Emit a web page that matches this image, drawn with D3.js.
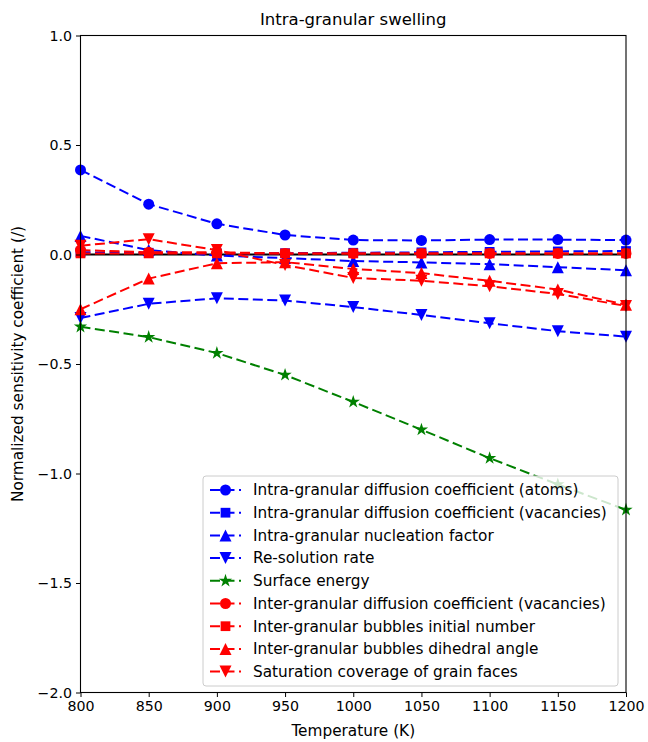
<!DOCTYPE html>
<html>
<head>
<meta charset="utf-8" />
<title>Intra-granular swelling</title>
<script src="https://cdn.jsdelivr.net/npm/d3@7"></script>
<style type="text/css">
  html, body { margin: 0; background: #fff; }
  svg text { font-family: "DejaVu Sans", sans-serif; fill: #000; }
</style>
</head>
<body>
<div id="container"></div>
<script>
// temperatures (K)
var temps = [800, 850, 900, 950, 1000, 1050, 1100, 1150, 1200];

// normalized sensitivity coefficients, one array per parameter
var intraDiffAtoms    = [0.386, 0.23, 0.14, 0.089, 0.066, 0.064, 0.068, 0.068, 0.066];
var intraDiffVac      = [0.01, 0.008, 0.005, 0.006, 0.008, 0.01, 0.012, 0.014, 0.016];
var intraNucleation   = [0.085, 0.02, -0.005, -0.016, -0.03, -0.036, -0.044, -0.058, -0.072];
var resolutionRate    = [-0.29, -0.225, -0.2, -0.21, -0.24, -0.276, -0.314, -0.35, -0.375];
var surfaceEnergy     = [-0.33, -0.377, -0.45, -0.55, -0.673, -0.8, -0.93, -1.05, -1.166];
var interDiffVac      = [0.02, 0.01, 0.01, 0.005, 0.005, 0.005, 0.005, 0.005, 0.005];
var interBubblesNum   = [0.005, 0.005, 0.005, 0.005, 0.005, 0.005, 0.005, 0.005, 0.005];
var interDihedral     = [-0.25, -0.11, -0.04, -0.035, -0.066, -0.085, -0.12, -0.16, -0.23];
var saturationCov     = [0.04, 0.07, 0.02, -0.048, -0.107, -0.12, -0.145, -0.18, -0.235];

var seriesNames = [
  "Intra-granular diffusion coefficient (atoms)",
  "Intra-granular diffusion coefficient (vacancies)",
  "Intra-granular nucleation factor",
  "Re-solution rate",
  "Surface energy",
  "Inter-granular diffusion coefficient (vacancies)",
  "Inter-granular bubbles initial number",
  "Inter-granular bubbles dihedral angle",
  "Saturation coverage of grain faces"
];
var seriesValues = [intraDiffAtoms, intraDiffVac, intraNucleation, resolutionRate,
  surfaceEnergy, interDiffVac, interBubblesNum, interDihedral, saturationCov];
var seriesColors = ["#0000ff", "#0000ff", "#0000ff", "#0000ff", "#008000",
  "#ff0000", "#ff0000", "#ff0000", "#ff0000"];
var seriesMarkers = ["circle", "square", "up", "down", "star",
  "circle", "square", "up", "down"];

var xTicks = [800, 850, 900, 950, 1000, 1050, 1100, 1150, 1200];
var yTicks = [1.0, 0.5, 0.0, -0.5, -1.0, -1.5, -2.0];

var W = 648, H = 742;
var margin = {left: 80.5, top: 35.5, right: 22, bottom: 49.5};

var svg = d3.select("#container").append("svg")
    .attr("width", W)
    .attr("height", H);

var x = d3.scaleLinear().domain([800, 1200]).range([margin.left, W - margin.right]);
var y = d3.scaleLinear().domain([-2.0, 1.0]).range([H - margin.bottom, margin.top]);

var fmtY = function(d) { return d3.format(".1f")(d).replace("-", "\u2212"); };

function markerPath(kind) {
  if (kind == "circle") return d3.symbol().type(d3.symbolCircle).size(95)();
  if (kind == "square") return d3.symbol().type(d3.symbolSquare).size(95)();
  if (kind == "star") return d3.symbol().type(d3.symbolStar).size(55)();
  // triangles, matplotlib style
  var r = 6;
  if (kind == "up") return "M0," + (-r) + "L" + r + "," + r + "L" + (-r) + "," + r + "Z";
  return "M0," + r + "L" + r + "," + (-r) + "L" + (-r) + "," + (-r) + "Z";
}

// zero line
svg.append("line")
    .attr("x1", x(800)).attr("x2", x(1200))
    .attr("y1", y(0)).attr("y2", y(0))
    .attr("stroke", "#000")
    .attr("stroke-width", 2.2);

var line = d3.line()
    .x(function(d, i) { return x(temps[i]); })
    .y(function(d) { return y(d); });

var plot = svg.append("g");

seriesValues.forEach(function(vals, k) {
  var g = plot.append("g");
  g.append("path")
      .datum(vals)
      .attr("d", line)
      .attr("fill", "none")
      .attr("stroke", seriesColors[k])
      .attr("stroke-width", 2)
      .attr("stroke-dasharray", "10,4.5");
  g.selectAll("path.m")
      .data(vals)
      .enter().append("path")
      .attr("class", "m")
      .attr("d", markerPath(seriesMarkers[k]))
      .attr("transform", function(d, i) { return "translate(" + x(temps[i]) + "," + y(d) + ")"; })
      .attr("fill", seriesColors[k]);
});

// axes
var xAxis = svg.append("g")
    .attr("transform", "translate(0," + (H - margin.bottom) + ")")
    .call(d3.axisBottom(x).tickValues(xTicks).tickSize(4.5).tickPadding(4).tickFormat(d3.format("d")));
var yAxis = svg.append("g")
    .attr("transform", "translate(" + margin.left + ",0)")
    .call(d3.axisLeft(y).tickValues(yTicks).tickSize(4.5).tickPadding(4).tickFormat(fmtY));
[xAxis, yAxis].forEach(function(a) {
  a.select(".domain").remove();
  a.selectAll("text").attr("font-size", 14.2).attr("font-family", "DejaVu Sans");
  a.selectAll("line").attr("stroke", "#000");
});

// frame
svg.append("rect")
    .attr("x", margin.left).attr("y", margin.top)
    .attr("width", W - margin.right - margin.left)
    .attr("height", H - margin.bottom - margin.top)
    .attr("fill", "none")
    .attr("stroke", "#000")
    .attr("stroke-width", 1.1);

// titles
svg.append("text")
    .attr("x", (margin.left + W - margin.right) / 2)
    .attr("y", 25)
    .attr("text-anchor", "middle")
    .attr("font-size", 16.5)
    .text("Intra-granular swelling");
svg.append("text")
    .attr("x", (margin.left + W - margin.right) / 2)
    .attr("y", 736)
    .attr("text-anchor", "middle")
    .attr("font-size", 15.3)
    .text("Temperature (K)");
svg.append("text")
    .attr("transform", "translate(23," + ((margin.top + H - margin.bottom) / 2) + ") rotate(-90)")
    .attr("text-anchor", "middle")
    .attr("font-size", 15.3)
    .text("Normalized sensitivity coefficient (/)");

// legend
var lx = 203, ly = 476, lw = 415, lh = 210, rowH = 22.7;
var legend = svg.append("g");
legend.append("rect")
    .attr("x", lx).attr("y", ly)
    .attr("width", lw).attr("height", lh)
    .attr("rx", 3)
    .attr("fill", "#fff")
    .attr("fill-opacity", 0.8)
    .attr("stroke", "#cccccc")
    .attr("stroke-width", 1);
var items = legend.selectAll("g.item")
    .data(seriesNames)
    .enter().append("g")
    .attr("class", "item")
    .attr("transform", function(d, i) { return "translate(" + lx + "," + (ly + 14 + i * rowH) + ")"; });
items.append("line")
    .attr("x1", 7).attr("x2", 38)
    .attr("stroke", function(d, i) { return seriesColors[i]; })
    .attr("stroke-width", 2)
    .attr("stroke-dasharray", "10,4.5");
items.append("path")
    .attr("d", function(d, i) { return markerPath(seriesMarkers[i]); })
    .attr("transform", "translate(22.5,0)")
    .attr("fill", function(d, i) { return seriesColors[i]; });
items.append("text")
    .attr("x", 50)
    .attr("dy", "0.35em")
    .attr("font-size", 15.3)
    .text(function(d) { return d; });
</script>
</body>
</html>
